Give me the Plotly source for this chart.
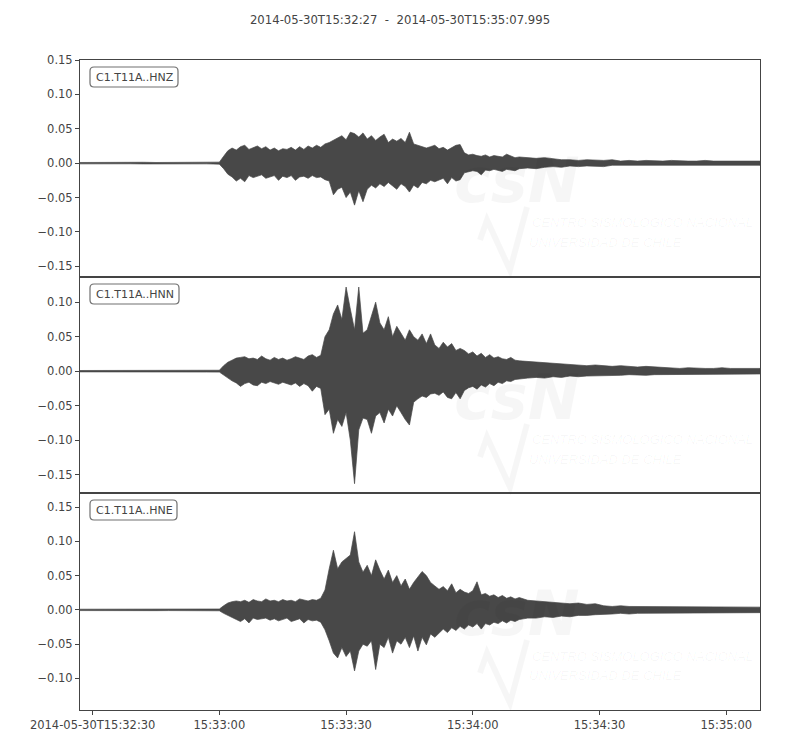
import pandas as pd
import plotly.graph_objects as go
from plotly.subplots import make_subplots

START = pd.Timestamp("2014-05-30T15:32:27")
END = pd.Timestamp("2014-05-30T15:35:07.995")
TITLE = "2014-05-30T15:32:27\u00a0\u00a0-\u00a0\u00a02014-05-30T15:35:07.995"

channels = ["C1.T11A..HNZ", "C1.T11A..HNN", "C1.T11A..HNE"]

# envelope sample times (seconds after START)
times = list(range(0, 34, 3)) + list(range(34, 105)) + list(range(106, 161, 2)) + [160.995]

# peak (upper) and trough (lower) amplitudes
hnz_up = [0.001, 0.0012, 0.0009, 0.0011, 0.001, 0.0013, 0.001, 0.0012, 0.0011, 0.001, 0.0012, 0.0015,
          .010, .018, .022, .019, .024, .026, .020, .023, .025, .021,
          .024, .019, .022, .018, .021, .020, .023, .019, .024, .020,
          .025, .022, .026, .023, .028, .030, .033, .036, .040, .034,
          .045, .043, .038, .044, .035, .040, .033, .038, .042, .030,
          .035, .032, .036, .030, .045, .028, .026, .025, .022, .024,
          .026, .021, .023, .019, .022, .026, .027, .015, .012, .013,
          .011, .010, .012, .009, .011, .010, .009, .013, .010, .008, .009,
          .008, .007, .008, .006, .005, .005, .004, .005, .004, .004, .005, .003, .004, .003,
          .004, .003, .003, .004, .003, .003, .003, .004, .003, .003, .003, .003, .003, .003, .003]
hnz_lo = [-0.001, -0.0011, -0.0012, -0.001, -0.0009, -0.0011, -0.0012, -0.001, -0.0011, -0.0012, -0.001, -0.0014,
          -.008, -.016, -.020, -.026, -.022, -.027, -.018, -.021, -.019, -.017,
          -.022, -.020, -.018, -.025, -.019, -.021, -.018, -.025, -.020, -.019,
          -.022, -.018, -.021, -.020, -.024, -.026, -.046, -.038, -.035, -.050,
          -.042, -.061, -.040, -.056, -.038, -.032, -.036, -.030, -.034, -.028,
          -.033, -.038, -.030, -.034, -.042, -.032, -.036, -.028, -.030, -.025,
          -.027, -.024, -.022, -.030, -.021, -.026, -.024, -.014, -.013, -.011,
          -.012, -.017, -.010, -.011, -.009, -.010, -.012, -.009, -.010, -.011, -.008,
          -.007, -.008, -.006, -.005, -.006, -.004, -.005, -.004, -.004, -.005, -.003, -.004, -.003, -.003,
          -.004, -.003, -.003, -.003, -.004, -.003, -.003, -.003, -.003, -.003, -.004, -.003, -.003, -.003, -.003]

hnn_up = [0.001, 0.0011, 0.001, 0.0012, 0.001, 0.0011, 0.0013, 0.001, 0.0012, 0.0011, 0.001, 0.0014,
          .008, .013, .016, .019, .020, .021, .018, .019, .017, .022,
          .018, .016, .020, .017, .019, .016, .018, .021, .019, .017,
          .022, .024, .020, .023, .050, .060, .083, .096, .075, .122,
          .090, .060, .122, .055, .060, .080, .100, .070, .060, .079,
          .050, .065, .055, .045, .060, .050, .045, .054, .040, .054,
          .038, .033, .042, .035, .040, .030, .033, .030, .025, .028,
          .022, .026, .020, .024, .019, .021, .018, .017, .020, .016, .015,
          .014, .013, .012, .011, .010, .010, .009, .008, .009, .008, .007, .008, .007, .006,
          .007, .006, .005, .005, .004, .005, .004, .004, .004, .005, .004, .004, .004, .004, .004]
hnn_lo = [-0.001, -0.0012, -0.0011, -0.001, -0.0012, -0.001, -0.0011, -0.0012, -0.001, -0.0011, -0.0012, -0.0013,
          -.006, -.010, -.014, -.017, -.022, -.018, -.016, -.020, -.021, -.016,
          -.018, -.015, -.017, -.019, -.016, -.018, -.020, -.017, -.022, -.018,
          -.021, -.029, -.022, -.025, -.063, -.055, -.090, -.070, -.080, -.060,
          -.100, -.163, -.085, -.068, -.070, -.090, -.065, -.060, -.075, -.055,
          -.065, -.050, -.060, -.070, -.078, -.045, -.040, -.036, -.038, -.033,
          -.032, -.035, -.030, -.038, -.040, -.031, -.040, -.028, -.024, -.022,
          -.026, -.020, -.023, -.018, -.021, -.016, -.018, -.014, -.015, -.012, -.012,
          -.010, -.009, -.010, -.008, -.009, -.007, -.008, -.007, -.006, -.007, -.006, -.006, -.005, -.005,
          -.006, -.005, -.005, -.004, -.004, -.004, -.004, -.004, -.005, -.004, -.004, -.004, -.004, -.004, -.004]

hne_up = [0.001, 0.0011, 0.0012, 0.001, 0.0011, 0.001, 0.0012, 0.0011, 0.001, 0.0012, 0.0011, 0.0013,
          .006, .010, .012, .013, .012, .014, .011, .015, .013, .012,
          .016, .013, .014, .012, .015, .013, .014, .012, .016, .014,
          .013, .015, .014, .017, .029, .060, .087, .060, .070, .075,
          .080, .114, .070, .055, .065, .050, .073, .058, .045, .058,
          .040, .050, .035, .045, .030, .040, .048, .056, .050, .040,
          .035, .030, .034, .028, .038, .025, .030, .026, .024, .028,
          .041, .022, .024, .020, .022, .018, .021, .017, .019, .016, .018,
          .014, .013, .012, .011, .010, .009, .010, .008, .009, .006, .005, .006, .005, .005,
          .004, .005, .004, .004, .005, .004, .004, .004, .004, .004, .004, .005, .004, .004, .004]
hne_lo = [-0.001, -0.0012, -0.001, -0.0011, -0.0012, -0.001, -0.0011, -0.001, -0.0012, -0.0011, -0.001, -0.0013,
          -.005, -.009, -.011, -.014, -.017, -.013, -.019, -.012, -.014, -.013,
          -.012, -.015, -.013, -.016, -.014, -.012, -.017, -.015, -.013, -.019,
          -.014, -.016, -.015, -.018, -.029, -.045, -.063, -.070, -.055, -.068,
          -.060, -.089, -.060, -.050, -.053, -.045, -.087, -.050, -.055, -.040,
          -.063, -.045, -.050, -.040, -.055, -.038, -.060, -.040, -.051, -.035,
          -.040, -.034, -.028, -.033, -.026, -.030, -.024, -.028, -.022, -.025,
          -.020, -.028, -.020, -.022, -.018, -.020, -.016, -.019, -.015, -.017, -.014,
          -.012, -.012, -.010, -.011, -.009, -.010, -.008, -.008, -.007, -.006, -.006, -.005, -.006, -.005,
          -.004, -.005, -.004, -.004, -.004, -.005, -.004, -.004, -.004, -.004, -.004, -.004, -.004, -.004, -.004]

uppers = [hnz_up, hnn_up, hne_up]
lowers = [hnz_lo, hnn_lo, hne_lo]

y_ranges = [[-0.165, 0.150], [-0.177, 0.137], [-0.146, 0.170]]
y_ticks = [[-0.15, -0.10, -0.05, 0.0, 0.05, 0.10, 0.15],
           [-0.15, -0.10, -0.05, 0.0, 0.05, 0.10],
           [-0.10, -0.05, 0.0, 0.05, 0.10, 0.15]]

x_tickvals = [START + pd.Timedelta(seconds=s) for s in (3, 33, 63, 93, 123, 153)]
x_ticktext = ["2014-05-30T15:32:30", "15:33:00", "15:33:30", "15:34:00", "15:34:30", "15:35:00"]

FONT = "DejaVu Sans"
FG = "#444444"
WAVE = "#484848"
WM = "rgba(0,0,0,0.035)"

fig = make_subplots(rows=3, cols=1, shared_xaxes=True, vertical_spacing=0)

tx = [START + pd.Timedelta(seconds=s) for s in times]
for i in range(3):
    xs = tx + tx[::-1]
    ys = uppers[i] + lowers[i][::-1]
    fig.add_trace(go.Scatter(x=xs, y=ys, mode="lines", fill="toself",
                             fillcolor=WAVE, line=dict(color=WAVE, width=0.7),
                             hoverinfo="skip", showlegend=False), row=i + 1, col=1)

# panel geometry in pixels for watermark / label placement
L, R, T, B = 80, 760, 60, 710
panel_tops = [60, 277, 493]


def px(xp):
    return (xp - L) / (R - L)


def py(yp):
    return (B - yp) / (B - T)


def rrect(x0, y0, x1, y1, r):
    P = lambda a, b: f"{px(a)},{py(b)}"
    return (f"M {P(x0 + r, y0)} L {P(x1 - r, y0)} Q {P(x1, y0)} {P(x1, y0 + r)} "
            f"L {P(x1, y1 - r)} Q {P(x1, y1)} {P(x1 - r, y1)} L {P(x0 + r, y1)} "
            f"Q {P(x0, y1)} {P(x0, y1 - r)} L {P(x0, y0 + r)} Q {P(x0, y0)} {P(x0 + r, y0)} Z")


box_right = [178, 179, 177]
WMFONT = "Liberation Sans"
for i in range(3):
    off = panel_tops[i] - 60
    # station label box (rounded)
    fig.add_shape(type="path", xref="paper", yref="paper",
                  path=rrect(90, 67 + off, box_right[i], 87 + off, 4),
                  line=dict(color="#707070", width=1.2), fillcolor="white", layer="above")
    fig.add_annotation(xref="paper", yref="paper", x=px(93.5), y=py(77 + off),
                       xanchor="left", yanchor="middle", showarrow=False,
                       text=channels[i], font=dict(family=FONT, size=11, color=FG))
    # watermark
    fig.add_annotation(xref="paper", yref="paper", x=px(452), y=py(180 + off),
                       xanchor="left", yanchor="middle", showarrow=False,
                       text="<b><i>csN</i></b>", font=dict(family=FONT, size=62, color=WM))
    fig.add_annotation(xref="paper", yref="paper", x=px(530), y=py(223 + off),
                       xanchor="left", yanchor="middle", showarrow=False,
                       text="<i>CENTRO SISMOLÓGICO NACIONAL</i>",
                       font=dict(family=WMFONT, size=13, color=WM))
    fig.add_annotation(xref="paper", yref="paper", x=px(527), y=py(242 + off),
                       xanchor="left", yanchor="middle", showarrow=False,
                       text="<i>UNIVERSIDAD DE CHILE</i>",
                       font=dict(family=WMFONT, size=13, color=WM))
    pts = [(480, 240), (487, 220), (510, 270), (527, 207)]
    path = "M " + " L ".join(f"{px(a)},{py(b + off)}" for a, b in pts)
    fig.add_shape(type="path", xref="paper", yref="paper", path=path,
                  line=dict(color=WM, width=6), layer="below")

axis_common = dict(showline=True, linecolor=FG, linewidth=1, mirror=True,
                   showgrid=False, zeroline=False, ticks="outside", ticklen=4,
                   tickcolor=FG, tickfont=dict(family=FONT, size=11.5, color=FG))

for i in range(3):
    fig.update_yaxes(range=y_ranges[i], tickvals=y_ticks[i], tickformat=".2f",
                     **axis_common, row=i + 1, col=1)
    if i < 2:
        fig.update_xaxes(type="date", range=[START, END], showticklabels=False,
                         showline=True, linecolor=FG, mirror=True, showgrid=False,
                         zeroline=False, ticks="", row=i + 1, col=1)
    else:
        fig.update_xaxes(type="date", range=[START, END], tickvals=x_tickvals,
                         ticktext=x_ticktext, **axis_common, row=i + 1, col=1)

fig.update_layout(
    width=800, height=750,
    margin=dict(l=80, r=40, t=60, b=40),
    paper_bgcolor="white", plot_bgcolor="white",
    title=dict(text=TITLE, x=0.5, xanchor="center", y=1 - 20 / 750, yanchor="middle",
               font=dict(family=FONT, size=11.7, color=FG)),
    font=dict(family=FONT, color=FG),
    showlegend=False,
)

fig.write_html("out.html", config={"displayModeBar": False},
               post_script="document.body.style.margin='0px';")
